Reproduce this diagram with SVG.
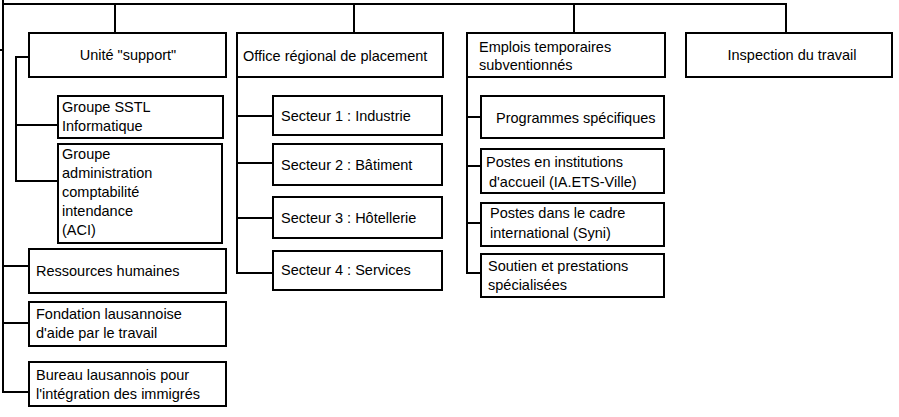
<svg xmlns="http://www.w3.org/2000/svg" width="899" height="417" viewBox="0 0 899 417">
<style>
rect.box{fill:#fff;stroke:#000;stroke-width:2}
.conn path{fill:none;stroke:#000;stroke-width:2}
text{font-family:"Liberation Sans",Arial,sans-serif;font-size:14.5px;fill:#000}
.c{text-anchor:middle}
</style>
<rect width="899" height="417" fill="#fff"/>
<g class="conn" id="connectors">
<path d="M3,0 V392 H29"/>
<path d="M0,50 H3"/>
<path d="M3,4 H786 V33"/>
<path d="M115,4 V33"/>
<path d="M354,4 V33"/>
<path d="M574,4 V33"/>
<path d="M29,57 H16 V181 H58"/>
<path d="M16,125 H58"/>
<path d="M3,266 H29"/>
<path d="M3,323 H29"/>
<path d="M237,77 V273 H273"/>
<path d="M237,116 H273"/>
<path d="M237,163 H273"/>
<path d="M237,218 H273"/>
<path d="M467,77 V273 H481"/>
<path d="M467,117 H481"/>
<path d="M467,166 H481"/>
<path d="M467,223 H481"/>
</g>
<g id="unite-support"><rect class="box" x="29" y="33" width="197" height="44"/><text class="c" x="128" y="60">Unité "support"</text></g>
<g id="groupe-sstl"><rect class="box" x="58" y="96" width="165" height="42"/><text x="62" y="112">Groupe SSTL</text><text x="62" y="131">Informatique</text></g>
<g id="groupe-aci"><rect class="box" x="58" y="144" width="164" height="99"/><text x="62" y="159">Groupe</text><text x="62" y="178">administration</text><text x="62" y="197">comptabilité</text><text x="62" y="216">intendance</text><text x="62" y="235">(ACI)</text></g>
<g id="ressources-humaines"><rect class="box" x="29" y="249" width="197" height="44"/><text x="36" y="276">Ressources humaines</text></g>
<g id="fondation"><rect class="box" x="29" y="302" width="197" height="44"/><text x="36" y="319">Fondation lausannoise</text><text x="36" y="338">d'aide par le travail</text></g>
<g id="bureau"><rect class="box" x="29" y="362" width="197" height="44"/><text x="36" y="380">Bureau lausannois pour</text><text x="36" y="399">l'intégration des immigrés</text></g>
<g id="office"><rect class="box" x="237" y="33" width="206" height="44"/><text x="243" y="61">Office régional de placement</text></g>
<g id="secteur1"><rect class="box" x="273" y="96" width="169" height="39"/><text x="281" y="121">Secteur 1 : Industrie</text></g>
<g id="secteur2"><rect class="box" x="273" y="144" width="169" height="41"/><text x="281" y="170">Secteur 2 : Bâtiment</text></g>
<g id="secteur3"><rect class="box" x="273" y="197" width="169" height="41"/><text x="281" y="223">Secteur 3 : Hôtellerie</text></g>
<g id="secteur4"><rect class="box" x="273" y="251" width="169" height="39"/><text x="281" y="275">Secteur 4 : Services</text></g>
<g id="emplois"><rect class="box" x="467" y="33" width="198" height="44"/><text x="479" y="52">Emplois temporaires</text><text x="479" y="70">subventionnés</text></g>
<g id="programmes"><rect class="box" x="481" y="96" width="183" height="42"/><text x="496" y="123">Programmes spécifiques</text></g>
<g id="postes-institutions"><rect class="box" x="481" y="149" width="183" height="44"/><text x="486" y="167">Postes en institutions</text><text x="489" y="187">d'accueil (IA.ETS-Ville)</text></g>
<g id="postes-syni"><rect class="box" x="481" y="203" width="183" height="43"/><text x="490" y="218">Postes dans le cadre</text><text x="490" y="238">international (Syni)</text></g>
<g id="soutien"><rect class="box" x="481" y="254" width="183" height="43"/><text x="488" y="271">Soutien et prestations</text><text x="488" y="290">spécialisées</text></g>
<g id="inspection"><rect class="box" x="686" y="33" width="206" height="44"/><text class="c" x="792" y="60">Inspection du travail</text></g>
</svg>
